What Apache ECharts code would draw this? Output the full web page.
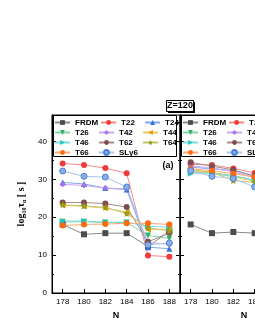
<!DOCTYPE html>
<html><head><meta charset="utf-8">
<script src="https://cdn.jsdelivr.net/npm/echarts@6/dist/echarts.min.js"></script>
<style>html,body{margin:0;padding:0;background:#fff}#c{width:255px;height:330px}</style>
</head><body><div id="c"></div>
<script>
// ---- data ----
const nLeft = [178, 180, 182, 184, 186, 188];
const nRight = [178, 180, 182, 184];
const xTickLabels = [178, 180, 182, 184, 186, 188];
const yTickLabels = [0, 10, 20, 30, 40];
const seriesNames = ['FRDM','T22','T24','T26','T42','T44','T46','T62','T64','T66','SLy6'];

const leftFRDM = [18.1, 15.5, 15.8, 15.8, 12.3, 16.3];
const leftT22  = [34.2, 33.8, 33.0, 31.6, 9.9, 9.6];
const leftT24  = [29.2, 28.8, 27.7, 27.3, 12.1, 11.7];
const leftT26  = [18.8, 18.8, 18.6, 18.6, 15.2, 14.4];
const leftT42  = [28.7, 28.4, 27.7, 27.5, 13.4, 12.8];
const leftT44  = [23.1, 22.9, 22.4, 21.4, 16.7, 16.9];
const leftT46  = [19.0, 19.0, 18.7, 18.7, 17.6, 17.4];
const leftT62  = [23.9, 23.9, 23.6, 22.7, 13.5, 15.9];
const leftT64  = [23.3, 23.0, 22.6, 21.0, 17.2, 16.4];
const leftT66  = [17.8, 18.1, 18.2, 18.4, 18.4, 18.1];
const leftSLy6 = [32.2, 30.8, 30.6, 28.0, 12.7, 13.2];

const rightFRDM = [18.1, 15.8, 16.1, 15.8];
const rightT22  = [34.0, 33.8, 32.9, 31.7];
const rightT24  = [33.2, 32.8, 32.3, 31.0];
const rightT26  = [32.0, 31.8, 31.0, 29.8];
const rightT42  = [33.6, 33.0, 32.0, 30.5];
const rightT44  = [32.2, 31.8, 30.6, 29.5];
const rightT46  = [31.5, 31.5, 30.8, 29.9];
const rightT62  = [34.5, 33.5, 32.5, 30.8];
const rightT64  = [32.5, 31.9, 29.7, 29.2];
const rightT66  = [32.8, 32.3, 31.5, 30.6];
const rightSLy6 = [32.3, 30.8, 30.2, 28.0];

const leftData = [leftFRDM,leftT22,leftT24,leftT26,leftT42,leftT44,leftT46,leftT62,leftT64,leftT66,leftSLy6];
const rightData = [rightFRDM,rightT22,rightT24,rightT26,rightT42,rightT44,rightT46,rightT62,rightT64,rightT66,rightSLy6];

// ---- styles ----
const star = 'path://M0,-10 L2.9,-4 L9.5,-3.1 L4.7,1.5 L5.9,8.1 L0,5 L-5.9,8.1 L-4.7,1.5 L-9.5,-3.1 L-2.9,-4 Z';
const styles = {
  FRDM: {c:'#4d4d4d', l:'#8a8a8a', s:'rect', r:0},
  T22:  {c:'#f03a3a', l:'#f58a8a', s:'circle', r:0},
  T24:  {c:'#2f6fe0', l:'#7fa6ee', s:'triangle', r:0},
  T26:  {c:'#2fb36a', l:'#85d2a6', s:'triangle', r:180},
  T42:  {c:'#a872ea', l:'#c9a8f2', s:'diamond', r:0},
  T44:  {c:'#e0a400', l:'#ecc860', s:'triangle', r:90},
  T46:  {c:'#1fc4c4', l:'#7fdcdc', s:'triangle', r:-90},
  T62:  {c:'#7b4f4f', l:'#a88a8a', s:'circle', r:0},
  T64:  {c:'#9a9a18', l:'#c4c46a', s:star, r:0},
  T66:  {c:'#ff6a10', l:'#ffa870', s:'circle', r:0},
  SLy6: {c:'#86aee8', l:'#a9c5ef', s:'circle', r:0, b:'#4f82d0'}
};

function mk(name, xs, ys, gi) {
  const st = styles[name];
  return {
    name: name, type: 'line',
    xAxisIndex: gi, yAxisIndex: gi === 0 ? 0 : 2,
    data: xs.map((x, i) => [x, ys[i]]),
    symbol: st.s, symbolRotate: st.r,
    symbolSize: name === 'T64' ? 7 : 6,
    itemStyle: {color: st.c, borderColor: st.b || st.c, borderWidth: st.b ? 1 : 0},
    lineStyle: {color: st.l, width: 1},
    emphasis: {disabled: true},
    animation: false
  };
}

const series = [];
seriesNames.forEach((n, i) => series.push(mk(n, nLeft, leftData[i], 0)));
seriesNames.forEach((n, i) => series.push(mk(n, nRight, rightData[i], 1)));

const axisFont = {fontFamily: 'Liberation Sans', fontSize: 8, color: '#000'};
function xAx(gi) {
  return {
    type: 'value', gridIndex: gi, min: 177, max: 189, position: 'bottom',
    axisLine: {show: true, lineStyle: {color: '#000', width: 1}},
    axisTick: {show: true, inside: true, length: 4, customValues: xTickLabels, lineStyle: {color: '#000'}},
    axisLabel: Object.assign({customValues: xTickLabels, margin: 5, hideOverlap: false}, axisFont),
    splitLine: {show: false},
    name: 'N', nameLocation: 'middle', nameGap: 16,
    nameTextStyle: {fontFamily: 'Liberation Sans', fontWeight: 'bold', fontSize: 9, color: '#000'}
  };
}
function yAx(gi, pos, labels, withName) {
  const ax = {
    type: 'value', gridIndex: gi, min: 0, max: 47, position: pos,
    axisLine: {show: true, lineStyle: {color: '#000', width: 1}},
    axisTick: {show: true, inside: true, length: 4, customValues: yTickLabels, lineStyle: {color: '#000'}},
    minorTick: {show: true, splitNumber: 2, length: 2, lineStyle: {color: '#000'}},
    axisLabel: labels ? Object.assign({customValues: yTickLabels, margin: 5}, axisFont) : {show: false},
    splitLine: {show: false}
  };
  if (withName) {
    ax.name = '{a|log}{s|10}{a|τ}{s|α}{a| [ s ]}';
    ax.nameLocation = 'middle';
    ax.nameGap = 14;
    ax.nameTextStyle = {
      rich: {
        a: {fontFamily: 'Liberation Serif', fontWeight: 'bold', fontSize: 10, color: '#000', lineHeight: 12},
        s: {fontFamily: 'Liberation Serif', fontWeight: 'bold', fontSize: 6, color: '#000', lineHeight: 7, verticalAlign: 'bottom'}
      }
    };
  }
  return ax;
}

const legendCommon = {
  orient: 'horizontal', padding: 0, itemGap: 2, itemWidth: 15, itemHeight: 6,
  width: 140, selectedMode: false, data: seriesNames,
  textStyle: {fontFamily: 'Liberation Sans', fontWeight: 'bold', fontSize: 8, color: '#000', width: 21, lineHeight: 7.3},
  borderWidth: 0
};

const option = {
  backgroundColor: '#fff',
  animation: false,
  grid: [
    {left: 52, top: 115, width: 128, height: 178, show: true, borderColor: '#000', borderWidth: 1, containLabel: false, outerBoundsMode: 'none'},
    {left: 180, top: 115, width: 128, height: 178, show: true, borderColor: '#000', borderWidth: 1, containLabel: false, outerBoundsMode: 'none'}
  ],
  xAxis: [xAx(0), xAx(1)],
  yAxis: [yAx(0, 'left', true, true), yAx(0, 'right', false, false), yAx(1, 'left', false, false)],
  legend: [
    Object.assign({left: 54, top: 118.5}, legendCommon),
    Object.assign({left: 182, top: 118.5}, legendCommon)
  ],
  graphic: [
    {type: 'rect', shape: {x: 53.5, y: 115.5, width: 123, height: 41}, style: {fill: 'none', stroke: '#000', lineWidth: 1}, z: 10},
    {type: 'rect', shape: {x: 181.5, y: 115.5, width: 120, height: 41}, style: {fill: 'none', stroke: '#000', lineWidth: 1}, z: 10},
    {type: 'rect', shape: {x: 168, y: 102, width: 27, height: 11}, style: {fill: '#000'}, z: 10},
    {type: 'rect', shape: {x: 166.5, y: 100.5, width: 27, height: 11}, style: {fill: '#fff', stroke: '#000', lineWidth: 1}, z: 11},
    {type: 'text', x: 180, y: 106, style: {text: 'Z=120', fontFamily: 'Liberation Sans', fontWeight: 'bold', fontSize: 9, fill: '#000', align: 'center', verticalAlign: 'middle'}, z: 12},
    {type: 'text', x: 168, y: 166, style: {text: '(a)', fontFamily: 'Liberation Sans', fontWeight: 'bold', fontSize: 9, fill: '#000', align: 'center', verticalAlign: 'middle'}, z: 12}
  ],
  series: series
};

const chart = echarts.init(document.getElementById('c'), null, {renderer: 'canvas'});
chart.setOption(option);
</script>
</body></html>
